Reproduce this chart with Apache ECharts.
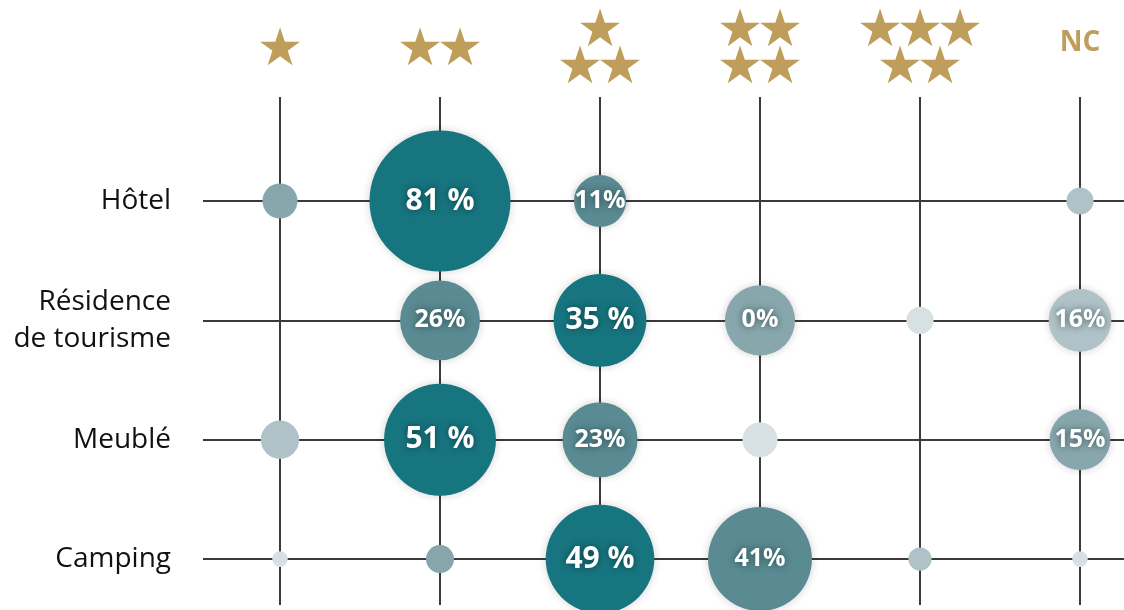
<!DOCTYPE html>
<html>
<head>
<meta charset="utf-8">
<script src="https://cdn.jsdelivr.net/npm/echarts@6/dist/echarts.min.js"></script>
<style>
  html, body { margin: 0; padding: 0; background: #fff; }
  #chart { width: 1124px; height: 610px; }
</style>
</head>
<body>
<div id="chart"></div>
<script>
// colonnes : classement en étoiles
var colonnes = ['★', '★★', '★\n★★', '★★\n★★', '★★★\n★★', 'NC'];
var lignes = ['Hôtel', 'Résidence\nde tourisme', 'Meublé', 'Camping'];

// poids (aire des bulles)
var hotel = [5, 81, 11, null, null, 3];
var residence = [null, 26, 35, 20, 3, 16];
var meuble = [6, 51, 23, 5, null, 15];
var camping = [1, 3.2, 48, 44, 2.2, 1];

// textes affichés dans les bulles
var txtHotel = ['', '81 %', '11%', '', '', ''];
var txtResidence = ['', '26%', '35 %', '0%', '', '16%'];
var txtMeuble = ['', '51 %', '23%', '', '', '15%'];
var txtCamping = ['', '', '49 %', '41%', '', ''];

// teinte (0 = la plus foncée)
var tonHotel = [2, 0, 1, null, null, 3];
var tonResidence = [null, 1, 0, 2, 4, 3];
var tonMeuble = [3, 0, 1, 4, null, 2];
var tonCamping = [4, 2, 0, 1, 3, 4];

var palette = ['#17757f', '#5a8b92', '#88a7ac', '#afc2c7', '#d7e0e3'];
var gold = '#bf9d5a';

var rows = [
    [hotel, txtHotel, tonHotel],
    [residence, txtResidence, tonResidence],
    [meuble, txtMeuble, tonMeuble],
    [camping, txtCamping, tonCamping]
];

var points = [];
rows.forEach(function (r, j) {
    r[0].forEach(function (v, i) {
        if (v == null) return;
        points.push({
            value: [i, j, v],
            label: {
                show: r[1][i] !== '',
                formatter: r[1][i],
                fontSize: r[2][i] === 0 ? 30 : 25
            },
            itemStyle: {
                color: palette[r[2][i]],
                opacity: 1,
                shadowBlur: r[1][i] !== '' ? 8 : 0,
                shadowColor: 'rgba(0,0,0,0.18)'
            }
        });
    });
});

var lignesV = colonnes.map(function (c, i) { return {xAxis: i}; });
var lignesH = lignes.map(function (l, j) { return {yAxis: j}; });

// chaque étoile dans une case de 40px pour qu'elles se touchent
function etoiles(txt) {
    if (txt === 'NC') return '{nc|NC}';
    return txt.split('\n').map(function (l) {
        return l.split('').map(function () { return '{s|★}'; }).join('');
    }).join('\n');
}

var chart = echarts.init(document.getElementById('chart'));
chart.setOption({
    animation: false,
    textStyle: {fontFamily: 'Open Sans'},
    grid: {left: 203, right: 0, top: 97, bottom: 5},
    xAxis: {
        type: 'value',
        position: 'top',
        min: -0.48125,
        max: 5.275,
        axisLine: {show: false},
        axisTick: {show: false},
        splitLine: {show: false},
        axisLabel: {
            customValues: [0, 1, 2, 3, 4, 5],
            formatter: function (v) { return etoiles(colonnes[v]); },
            color: gold,
            align: 'center',
            verticalAlign: 'middle',
            margin: 46,
            rich: {
                s: {fontFamily: 'DejaVu Sans', fontSize: 52, lineHeight: 37, width: 40, align: 'center', color: gold},
                nc: {fontFamily: 'Open Sans', fontWeight: 'bold', fontSize: 28, color: gold, padding: [0, 0, 16, 0]}
            }
        }
    },
    yAxis: {
        type: 'value',
        inverse: true,
        min: -0.8715,
        max: 3.385,
        axisLine: {show: false},
        axisTick: {show: false},
        splitLine: {show: false},
        axisLabel: {
            customValues: [0, 1, 2, 3],
            formatter: function (v) { return lignes[v]; },
            color: '#111',
            fontSize: 28,
            lineHeight: 37,
            align: 'right',
            margin: 32
        }
    },
    series: [
        {
            type: 'scatter',
            data: [],
            z: 1,
            markLine: {
                silent: true,
                z: 1,
                symbol: ['none', 'none'],
                label: {show: false},
                lineStyle: {color: '#3a3a3a', width: 2, type: 'solid'},
                emphasis: {disabled: true},
                data: lignesV.concat(lignesH)
            }
        },
        {
            type: 'scatter',
            z: 3,
            data: points,
            symbolSize: function (val) { return Math.sqrt(val[2]) * 15.67; },
            label: {
                position: 'inside',
                color: '#fff',
                fontWeight: 'bold',
                textShadowColor: 'rgba(0,30,35,0.6)',
                textShadowBlur: 7
            },
            emphasis: {disabled: true}
        }
    ]
});
</script>
</body>
</html>
